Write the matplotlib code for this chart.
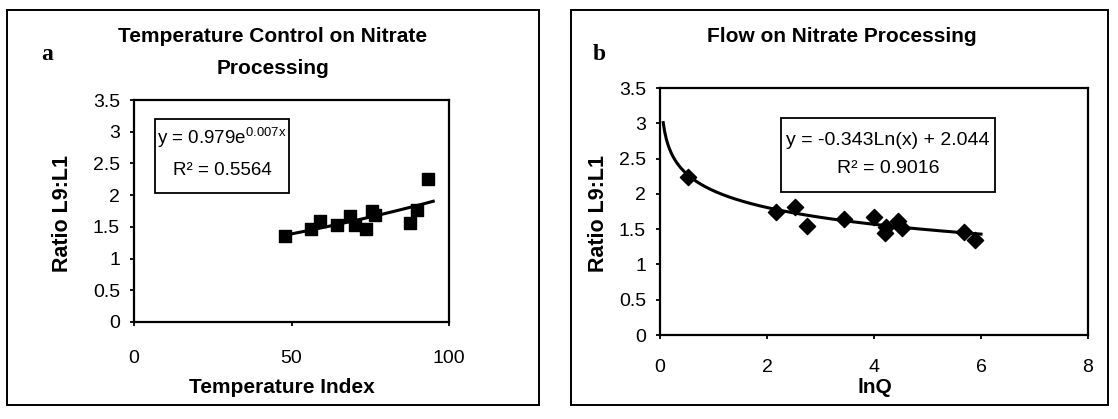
import numpy as np
import matplotlib
matplotlib.use("Agg")
import matplotlib.pyplot as plt
from matplotlib.patches import Rectangle

plt.rcParams['font.family'] = ['Liberation Sans', 'DejaVu Sans']
plt.rcParams['mathtext.fontset'] = 'custom'
plt.rcParams['mathtext.rm'] = 'Liberation Sans'
plt.rcParams['mathtext.it'] = 'Liberation Sans'

# ---- data ----
temp_index = [47.8, 56.3, 59.2, 64.4, 68.6, 70.0, 73.5, 75.7, 76.6, 87.6, 89.7, 93.2]
ratio_a = [1.35, 1.46, 1.60, 1.53, 1.67, 1.53, 1.47, 1.75, 1.68, 1.56, 1.77, 2.25]

lnq = [0.53, 2.17, 2.53, 2.75, 3.44, 4.00, 4.20, 4.22, 4.45, 4.53, 5.68, 5.88]
ratio_b = [2.24, 1.74, 1.81, 1.55, 1.65, 1.67, 1.44, 1.53, 1.62, 1.51, 1.46, 1.35]

# displayed trendline equations
exp_a, exp_b = 0.979, 0.007
log_a, log_b = -0.343, 2.044
trend_a_range = (47.0, 95.0)
trend_b_range = (0.06, 6.0)

xticks_a = [0, 50, 100]
xticks_b = [0, 2, 4, 6, 8]
yticks = [0, 0.5, 1, 1.5, 2, 2.5, 3, 3.5]
ytick_labels = ['0', '0.5', '1', '1.5', '2', '2.5', '3', '3.5']

W, H = 1118, 419
fig = plt.figure(figsize=(W / 100, H / 100), dpi=100)

def fx(px):
    return px / W

def fy(py):
    return 1 - py / H

def add_axes(l, r, t, b):
    return fig.add_axes([fx(l), fy(b), fx(r) - fx(l), fy(t) - fy(b)])

# panel frames
for (l, r, t, b) in [(7, 539, 10, 405), (571, 1108, 10, 405)]:
    fig.patches.append(Rectangle((fx(l), fy(b)), fx(r) - fx(l), fy(t) - fy(b),
                                 transform=fig.transFigure, fill=False,
                                 edgecolor='black', linewidth=1.4))

def style(ax):
    for s in ax.spines.values():
        s.set_linewidth(1.6)
        s.set_color('black')
    ax.tick_params(direction='out', length=3, width=1.3, labelsize=14,
                   pad=7, colors='black')
    ax.set_yticks(yticks)
    ax.set_yticklabels(ytick_labels)
    ax.set_ylim(0, 3.5)

# ---- panel a ----
ax1 = add_axes(134, 449, 100, 322)
ax1.scatter(temp_index, ratio_a, marker='s', s=68, color='black', zorder=3)
xa = np.linspace(*trend_a_range, 100)
ax1.plot(xa, exp_a * np.exp(exp_b * xa), color='black', lw=2.2, zorder=2)
ax1.set_xlim(0, 100)
ax1.set_xticks(xticks_a)
style(ax1)
ax1.tick_params(axis='x', pad=17)

# ---- panel b ----
ax2 = add_axes(660, 1088, 88, 335)
ax2.scatter(lnq, ratio_b, marker='D', s=68, color='black', zorder=3)
xb = np.linspace(*trend_b_range, 200)
ax2.plot(xb, log_a * np.log(xb) + log_b, color='black', lw=2.2, zorder=2)
ax2.set_xlim(0, 8)
ax2.set_xticks(xticks_b)
style(ax2)
ax2.tick_params(axis='x', pad=14)

# ---- text ----
tkw = dict(fontweight='bold', ha='center', va='center', color='black')
fig.text(fx(273), fy(37), 'Temperature Control on Nitrate', fontsize=15, **tkw)
fig.text(fx(273), fy(68), 'Processing', fontsize=15, **tkw)
fig.text(fx(842), fy(37), 'Flow on Nitrate Processing', fontsize=15, **tkw)

fig.text(fx(47), fy(54), 'a', fontsize=17, fontweight='bold', family='Liberation Serif',
         ha='center', va='center')
fig.text(fx(599), fy(54), 'b', fontsize=17, fontweight='bold', family='Liberation Serif',
         ha='center', va='center')

fig.text(fx(62), fy(213), 'Ratio L9:L1', rotation=90, fontsize=15.5, **tkw)
fig.text(fx(598), fy(213), 'Ratio L9:L1', rotation=90, fontsize=15.5, **tkw)
fig.text(fx(282), fy(387), 'Temperature Index', fontsize=15, **tkw)
fig.text(fx(875), fy(387), 'lnQ', fontsize=15, **tkw)

# equation boxes
for (l, r, t, b) in [(155, 289, 119, 193), (781, 995, 118, 192)]:
    fig.patches.append(Rectangle((fx(l), fy(b)), fx(r) - fx(l), fy(t) - fy(b),
                                 transform=fig.transFigure, facecolor='white',
                                 edgecolor='black', linewidth=1.3, zorder=5))

ekw = dict(ha='center', va='center', color='black', zorder=6)
fig.text(fx(222), fy(138), r'y = 0.979e$^{0.007x}$', fontsize=13.5, **ekw)
fig.text(fx(222), fy(170), 'R\u00b2 = 0.5564', fontsize=13.5, **ekw)
fig.text(fx(888), fy(140), 'y = -0.343Ln(x) + 2.044', fontsize=14, **ekw)
fig.text(fx(888), fy(168), 'R\u00b2 = 0.9016', fontsize=14, **ekw)

fig.savefig('out.png', dpi=100)
